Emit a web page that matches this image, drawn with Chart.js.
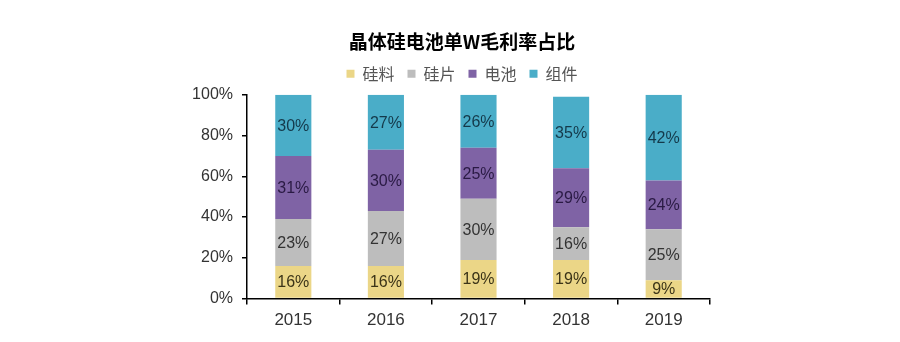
<!DOCTYPE html>
<html>
<head>
<meta charset="utf-8">
<script src="https://cdn.jsdelivr.net/npm/chart.js@4"></script>
<style>
  html, body { margin: 0; padding: 0; background: #fff; }
  #wrap { width: 900px; height: 342px; }
</style>
</head>
<body>
<div id="wrap"><canvas id="bar-chart"></canvas></div>
<script>
const years = ['2015', '2016', '2017', '2018', '2019'];
const silicon = [16, 16, 19, 19, 9];     // 硅料
const wafer = [23, 27, 30, 16, 25];      // 硅片
const cell = [31, 30, 25, 29, 24];       // 电池
const module_ = [30, 27, 26, 35, 42];    // 组件

const numFont = '"Liberation Sans", Arial, sans-serif';

// value labels in the middle of each stacked segment
const segmentLabels = {
  id: 'segmentLabels',
  afterDatasetsDraw(chart) {
    const ctx = chart.ctx;
    ctx.save();
    ctx.font = '16px ' + numFont;
    ctx.textAlign = 'center';
    ctx.textBaseline = 'middle';
    chart.data.datasets.forEach((ds, i) => {
      const meta = chart.getDatasetMeta(i);
      ctx.fillStyle = ds.labelColor;
      meta.data.forEach((bar, j) => {
        const y = (bar.y + bar.base) / 2;
        ctx.fillText(ds.data[j] + '%', bar.x, y + 1);
      });
    });
    ctx.restore();
  }
};

// a little extra room under the legend row
const legendGap = {
  id: 'legendGap',
  afterInit(chart) {
    const lg = chart.legend;
    const fit = lg.fit.bind(lg);
    lg.fit = function () {
      fit();
      this.height += 3;
    };
  }
};

new Chart(document.getElementById('bar-chart'), {
  type: 'bar',
  data: {
    labels: years,
    datasets: [
      { label: '硅料', data: silicon, backgroundColor: '#EBD687', labelColor: '#3b3418' },
      { label: '硅片', data: wafer, backgroundColor: '#BDBDBD', labelColor: '#333333' },
      { label: '电池', data: cell, backgroundColor: '#7F63A5', labelColor: '#2a1a44' },
      { label: '组件', data: module_, backgroundColor: '#4AADC8', labelColor: '#14394a' }
    ]
  },
  options: {
    responsive: true,
    maintainAspectRatio: false,
    animation: false,
    datasets: {
      bar: { barPercentage: 0.39, categoryPercentage: 1 }
    },
    layout: { padding: { left: 180, right: 156, top: 0, bottom: 5 } },
    scales: {
      x: {
        stacked: true,
        border: { color: '#000', width: 1.5 },
        grid: { drawOnChartArea: false, drawTicks: true, tickLength: 6, color: '#000', lineWidth: 1.5 },
        ticks: { color: '#333', font: { size: 17, family: numFont }, padding: 6 }
      },
      y: {
        stacked: true,
        min: 0,
        max: 100,
        border: { color: '#000', width: 1.5 },
        grid: { drawOnChartArea: false, drawTicks: true, tickLength: 5, color: '#000', lineWidth: 1.5 },
        ticks: {
          stepSize: 20,
          color: '#333',
          padding: 9,
          font: { size: 16, family: numFont },
          callback: v => v + '%'
        },
        afterFit(scale) { scale.width = 67; }
      },
      // empty spacer on the right so the title sits slightly right of the plot
      spacer: {
        position: 'right',
        border: { display: false },
        grid: { display: false },
        ticks: { display: false },
        afterFit(scale) { scale.width = 34; }
      }
    },
    plugins: {
      title: {
        display: true,
        text: '晶体硅电池单W毛利率占比',
        color: '#000',
        font: { size: 19, weight: 'bold', family: '"Noto Sans CJK SC", sans-serif' },
        padding: { top: 30, bottom: 0 }
      },
      legend: {
        display: true,
        labels: {
          boxWidth: 8,
          boxHeight: 8,
          padding: 13,
          color: '#555',
          font: { size: 16, family: '"Noto Sans CJK SC", sans-serif' }
        }
      },
      tooltip: { enabled: false }
    }
  },
  plugins: [segmentLabels, legendGap]
});
</script>
</body>
</html>
